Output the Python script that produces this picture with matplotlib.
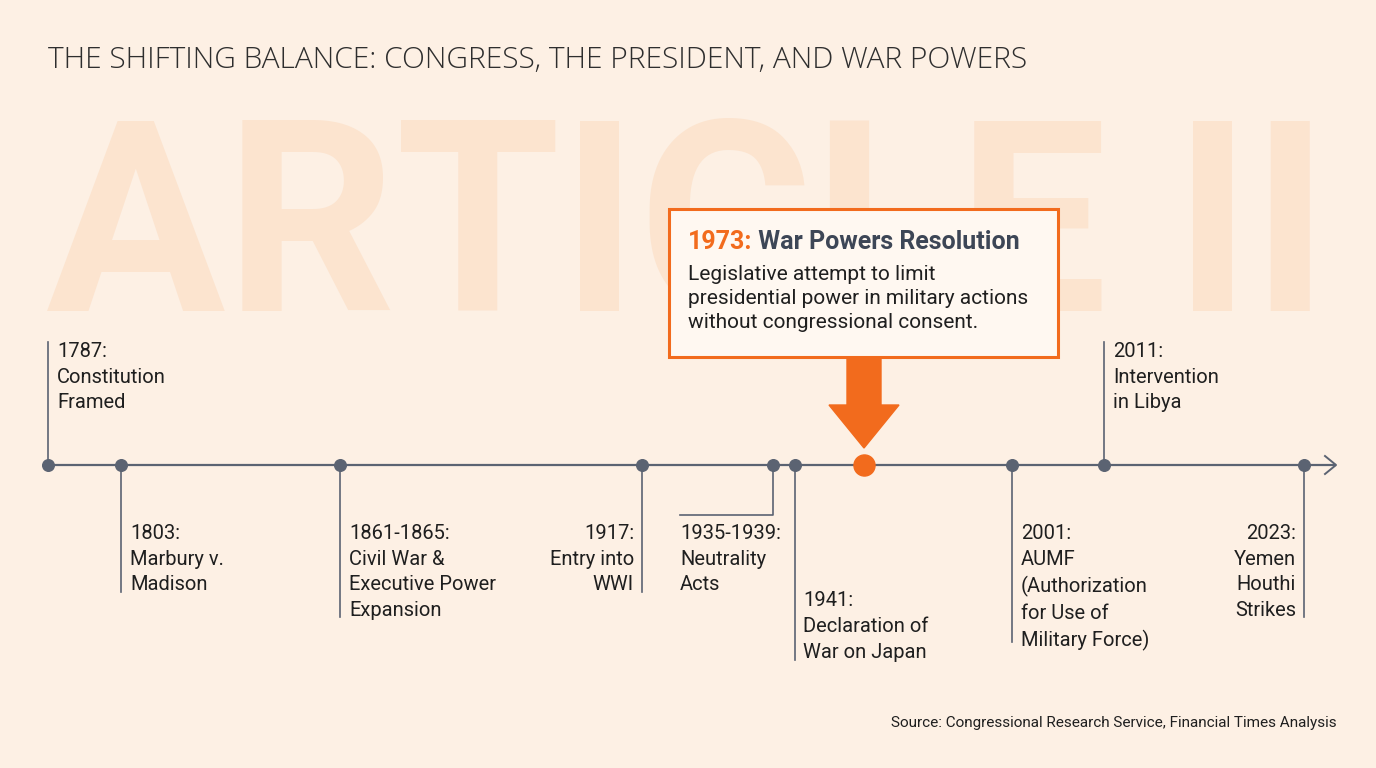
import matplotlib
matplotlib.use("Agg")
import matplotlib.pyplot as plt
from matplotlib.patches import FancyBboxPatch, Polygon

# ---- data ----
years = ["1787", "1803", "1861-1865", "1917", "1935-1939", "1941", "1973", "2001", "2011", "2023"]
labels = [
    "1787:\nConstitution\nFramed",
    "1803:\nMarbury v.\nMadison",
    "1861-1865:\nCivil War &\nExecutive Power\nExpansion",
    "1917:\nEntry into\nWWI",
    "1935-1939:\nNeutrality\nActs",
    "1941:\nDeclaration of\nWar on Japan",
    "",
    "2001:\nAUMF\n(Authorization\nfor Use of\nMilitary Force)",
    "2011:\nIntervention\nin Libya",
    "2023:\nYemen\nHouthi\nStrikes",
]
# layout (pixel coordinates)
xpos = [48, 121, 340, 642, 773, 795, 864, 1012, 1104, 1304]
side = ["up", "down", "down", "downR", "bend", "down2", "hl", "down", "up", "downR"]

BG = "#fdf0e4"
GRAY = "#5b6372"
ORANGE = "#f26b1d"
TXT = "#1f1f1f"

fig = plt.figure(figsize=(13.76, 7.68), dpi=100, facecolor=BG)
ax = fig.add_axes([0, 0, 1, 1])
ax.set_xlim(0, 1376)
ax.set_ylim(768, 0)
ax.axis("off")
ax.set_facecolor(BG)

# watermark
ax.text(688, 238, "ARTICLE II", ha="center", va="center", fontsize=192,
        fontweight="bold", color="#fce4cf", family="Roboto", zorder=0)

ax.text(48, 60, "THE SHIFTING BALANCE: CONGRESS, THE PRESIDENT, AND WAR POWERS",
        ha="left", va="center", fontsize=21.5, color="#2e2e2e", family="Open Sans",
        fontweight="light")

Y = 465
ax.plot([48, 1335], [Y, Y], color=GRAY, lw=1.6, zorder=2)
ax.plot([1325, 1336, 1325], [Y - 9, Y, Y + 9], color=GRAY, lw=1.4, zorder=2)

fs = 14.5
ls = 1.45
lh = 25
for x, lab, s in zip(xpos, labels, side):
    if s == "hl":
        continue
    n = lab.count("\n") + 1
    if s == "up":
        ax.plot([x, x], [Y, 342], color=GRAY, lw=1.2, zorder=2)
        ax.text(x + 9, 342, lab, ha="left", va="top", fontsize=fs, color=TXT,
                family="Roboto", linespacing=ls)
    elif s == "down":
        ax.plot([x, x], [Y, 522 + n * lh - 5], color=GRAY, lw=1.2, zorder=2)
        ax.text(x + 9, 524, lab, ha="left", va="top", fontsize=fs, color=TXT,
                family="Roboto", linespacing=ls)
    elif s == "downR":
        ax.plot([x, x], [Y, 522 + n * lh - 5], color=GRAY, lw=1.2, zorder=2)
        ax.text(x - 8, 524, lab, ha="right", va="top", fontsize=fs, color=TXT,
                family="Roboto", linespacing=ls, multialignment="right")
    elif s == "bend":
        ax.plot([x, x, 680], [Y, 515, 515], color=GRAY, lw=1.2, zorder=2)
        ax.text(680, 524, lab, ha="left", va="top", fontsize=fs, color=TXT,
                family="Roboto", linespacing=ls)
    elif s == "down2":
        ax.plot([x, x], [Y, 660], color=GRAY, lw=1.2, zorder=2)
        ax.text(x + 8, 591, lab, ha="left", va="top", fontsize=fs, color=TXT,
                family="Roboto", linespacing=ls)
    ax.scatter([x], [Y], s=70, color=GRAY, zorder=3)

# highlight 1973
hx = xpos[years.index("1973")]
ax.scatter([hx], [Y], s=230, color=ORANGE, zorder=4)
ax.add_patch(Polygon([[hx - 17, 357], [hx + 17, 357], [hx + 17, 405], [hx + 35, 405],
                      [hx, 448], [hx - 35, 405], [hx - 17, 405]],
                     closed=True, color=ORANGE, zorder=3))
ax.add_patch(FancyBboxPatch((669, 209), 389, 148, boxstyle="square,pad=0",
                            facecolor="#fff8f1", edgecolor=ORANGE, lw=2.2, zorder=3))
t1 = ax.text(688, 242, "1973:", ha="left", va="center", fontsize=18, fontweight="bold",
             color=ORANGE, family="Roboto", zorder=4)
ax.annotate(" War Powers Resolution", xy=(1, 0.5), xycoords=t1, ha="left", va="center",
            fontsize=18, fontweight="bold", color="#3d4656", family="Roboto", zorder=4)
ax.text(688, 265, "Legislative attempt to limit\npresidential power in military actions\nwithout congressional consent.",
        ha="left", va="top", fontsize=15, color=TXT, family="Roboto", linespacing=1.35, zorder=4)

ax.text(1337, 723, "Source: Congressional Research Service, Financial Times Analysis",
        ha="right", va="center", fontsize=11, color=TXT, family="Roboto")

fig.savefig("out.png", dpi=100, facecolor=BG)
